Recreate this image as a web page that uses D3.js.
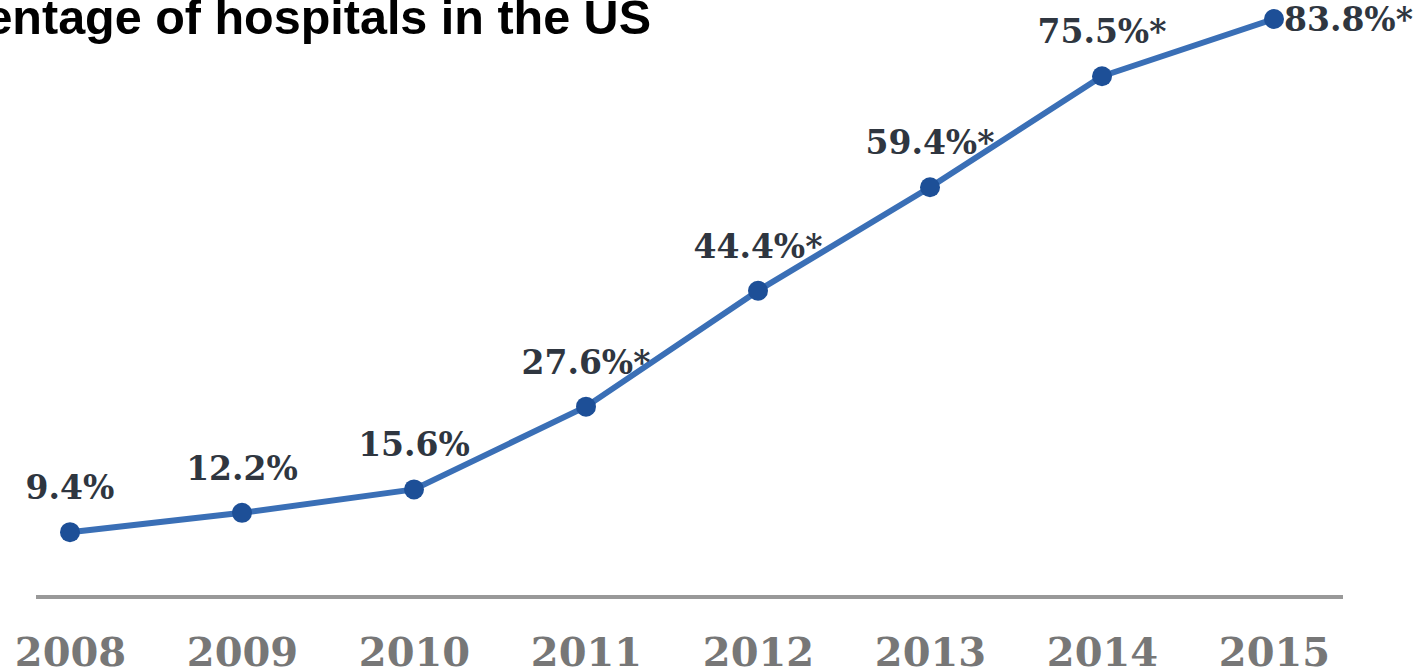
<!DOCTYPE html>
<html>
<head>
<meta charset="utf-8">
<script src="https://cdn.jsdelivr.net/npm/d3@7"></script>
<style>
  body { margin: 0; background: #fff; }
  svg { display: block; }
</style>
</head>
<body>
<div id="chart"></div>
<script>
const years = ["2008", "2009", "2010", "2011", "2012", "2013", "2014", "2015"];
const values = [9.4, 12.2, 15.6, 27.6, 44.4, 59.4, 75.5, 83.8];
const labels = ["9.4%", "12.2%", "15.6%", "27.6%*", "44.4%*", "59.4%*", "75.5%*", "83.8%*"];
const title = "Percentage of hospitals in the US";

const W = 1424, H = 670;

const svg = d3.select("#chart")
  .append("svg")
    .attr("width", W)
    .attr("height", H);

// x: one position per year, centers 70 .. 1274
const x = d3.scalePoint()
  .domain(years)
  .range([70, 1274]);

const y = d3.scaleLinear()
  .domain([0, 83.8])
  .range([597, 19]);

const data = years.map((yr, i) => ({year: yr, value: values[i], label: labels[i]}));

// title, cut off on the left like the original
svg.append("text")
  .attr("x", 651)
  .attr("y", 34)
  .attr("text-anchor", "end")
  .style("font-family", "'Liberation Sans', Arial, sans-serif")
  .style("font-weight", "bold")
  .style("font-size", "48.5px")
  .style("fill", "#000")
  .text(title);

// baseline axis
const xAxis = svg.append("g")
  .attr("transform", "translate(0," + y(0) + ")")
  .call(d3.axisBottom(x).tickSize(0).tickPadding(41));
xAxis.select(".domain")
  .attr("d", "M36,0H1343")
  .attr("stroke", "#999")
  .attr("stroke-width", 4);
xAxis.selectAll("text")
  .style("font-family", "'DejaVu Serif', serif")
  .style("font-weight", "bold")
  .style("font-size", "40px")
  .style("fill", "#777");

// line
const line = d3.line()
  .x(d => x(d.year))
  .y(d => y(d.value));

svg.append("path")
  .datum(data)
  .attr("d", line)
  .attr("fill", "none")
  .attr("stroke", "#3a6fb6")
  .attr("stroke-width", 6)
  .attr("stroke-linejoin", "round");

// points
svg.selectAll("circle.pt")
  .data(data)
  .enter()
  .append("circle")
    .attr("class", "pt")
    .attr("cx", d => x(d.year))
    .attr("cy", d => y(d.value))
    .attr("r", 10)
    .attr("fill", "#1d4f97");

// value labels (last one sits to the right of its point)
const last = years[years.length - 1];
svg.selectAll("text.lbl")
  .data(data)
  .enter()
  .append("text")
    .attr("class", "lbl")
    .attr("x", d => d.year === last ? x(d.year) + 10 : x(d.year))
    .attr("y", d => d.year === last ? y(d.value) + 12 : y(d.value) - 33)
    .attr("text-anchor", d => d.year === last ? "start" : "middle")
    .style("font-family", "'DejaVu Serif', serif")
    .style("font-weight", "bold")
    .style("font-size", "33px")
    .style("fill", "#2f3640")
    .text(d => d.label);
</script>
</body>
</html>
